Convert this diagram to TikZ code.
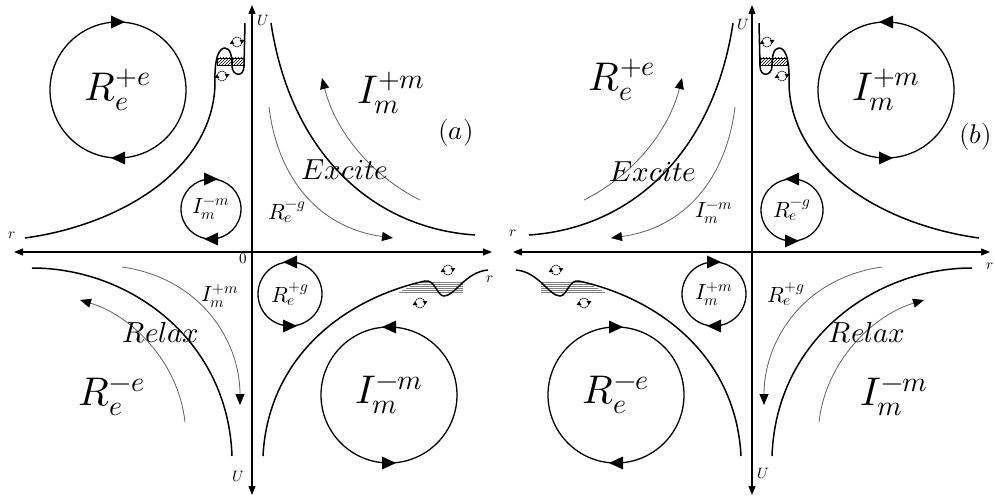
\documentclass[tikz,border=0pt]{standalone}
\usepackage{fontspec}
\usepackage{unicode-math}
\usetikzlibrary{arrows.meta,patterns}
\tikzset{
  curve/.style={line width=1.5pt, black},
  garrow/.style={line width=0.8pt, gray!75!black, -{Triangle[length=11pt,width=9pt,color=black]}},
  axisline/.style={line width=1.2pt, {Triangle[length=9pt,width=7pt]}-{Triangle[length=9pt,width=7pt]}},
  circ/.style={line width=1.3pt},
  biglab/.style={font=\fontsize{40}{44}\selectfont, inner sep=1pt},
  smalllab/.style={font=\fontsize{22}{26}\selectfont, inner sep=1pt},
  wordlab/.style={font=\fontsize{29}{32}\selectfont, inner sep=1pt},
  panlab/.style={font=\fontsize{27}{30}\selectfont, inner sep=1pt},
  axlab/.style={font=\fontsize{15}{17}\selectfont, inner sep=1pt},
  tri/.pic={\fill (7,0) -- (-7,-6.5) -- (-7,6.5) -- cycle;},
  ico/.pic={\draw[line width=0.5pt] (0,0) circle (5);
            \fill (-5,-1.5) -- (-7.5,2) -- (-2.5,2) -- cycle;
            \fill (5,1.5) -- (2.5,-2) -- (7.5,-2) -- cycle;}
}
% #1 centre name, #2 radius, #3 top arrow rotation (0 = right), #4 bottom arrow rotation
\newcommand\cyclecirc[4]{%
  \draw[circ] (#1) circle (#2);
  \pic[rotate=#3] at ([yshift=#2pt]#1) {tri};
  \pic[rotate=#4] at ([yshift=-#2pt]#1) {tri};
}
\newcommand\panelcurves{%
  % quadrant I main curve and arrows
  \draw[curve] (271,23) .. controls (290,150) and (370,228) .. (475,235);
  \draw[garrow] (420,200) .. controls (370,175) and (335,130) .. (322,78);
  \draw[garrow] (269,107) .. controls (278,180) and (320,228) .. (393,238);
  % quadrant III main curve and arrows
  \draw[curve] (32,268) .. controls (130,268) and (228,340) .. (232,456);
  \draw[garrow] (185,422) .. controls (178,360) and (130,315) .. (80,300);
  \draw[garrow] (122,267) .. controls (200,278) and (240,340) .. (240,405);
  % quadrant II well
  \draw[line width=0.5pt, pattern=north east lines] (217,58) rectangle (232,65);
  \draw[line width=0.5pt, pattern=north east lines] (232,58) rectangle (244,65);
  \draw[curve] (25,238) .. controls (120,225) and (212,170) .. (215,85)
     .. controls (214,55) and (220,48) .. (225,48)
     .. controls (231,48) and (232,58) .. (232,66)
     .. controls (232,76) and (244,78) .. (244,66) -- (245,23);
  \pic at (237,42) {ico};
  \pic at (222,76) {ico};
  % quadrant IV well
  \foreach \yy/\xs in {282.5/420,284.5/414,286.5/410,288.5/406,290.5/402,292.5/399}
    \draw[gray, line width=0.5pt] (\xs,\yy) -- (463,\yy);
  \draw[curve] (263,456) .. controls (268,360) and (340,300) .. (425,281)
     .. controls (435,279) and (437,296) .. (444,296)
     .. controls (455,296) and (465,272) .. (488,270);
  \pic at (448,270) {ico};
  \pic at (420,303) {ico};
}
\begin{document}
\begin{tikzpicture}[x=1pt,y=-1pt]
\useasboundingbox (0,0) rectangle (995,497);
% ---------------- panel (a) ----------------
\coordinate (aT) at (252,5);
\coordinate (aB) at (252,495);
\coordinate (aL) at (14,252);
\coordinate (aR) at (492,252);
\draw[axisline] (aB) -- (aT);
\draw[axisline] (aL) -- (aR);
\node[axlab] (aU1) at (263,21) {$U$};
\node[axlab] (ar1) at (12,235) {$r$};
\node[axlab] (a0) at (243,259) {$0$};
\node[axlab] (ar2) at (490,279) {$r$};
\node[axlab] (aU2) at (238,477) {$U$};
\panelcurves
\coordinate (caRee) at (118,90);
\coordinate (caImm) at (211,209);
\coordinate (caReg) at (290,294);
\coordinate (caImmB) at (389,395);
\cyclecirc{caRee}{68}{0}{180}
\cyclecirc{caImm}{30}{0}{180}
\cyclecirc{caReg}{32}{180}{0}
\cyclecirc{caImmB}{68}{180}{0}
\node[biglab] (aRee) at (caRee) {$R_e^{+e}$};
\node[smalllab] (aImm) at (caImm) {$I_m^{-m}$};
\node[smalllab] (aReg) at (caReg) {$R_e^{+g}$};
\node[biglab] (aImmB) at (caImmB) {$I_m^{-m}$};
\node[biglab] (aIpm) at (391,93) {$I_m^{+m}$};
\node[panlab] (alab) at (456,133) {$(a)$};
\node[wordlab] (aexc) at (345,170) {$Excite$};
\node[smalllab] (aRmg) at (287,212) {$R_e^{-g}$};
\node[smalllab] (aIpms) at (220,296) {$I_m^{+m}$};
\node[wordlab] (arel) at (161,333) {$Relax$};
\node[biglab] (aRme) at (112,397) {$R_e^{-e}$};
% ---------------- panel (b) ----------------
\coordinate (bT) at (752,5);
\coordinate (bB) at (752,495);
\coordinate (bL) at (513,252);
\coordinate (bR) at (990,252);
\draw[axisline] (bB) -- (bT);
\draw[axisline] (bL) -- (bR);
\node[axlab] (bU1) at (743,25) {$U$};
\node[axlab] (br1) at (513,233) {$r$};
\node[axlab] (br2) at (990,266) {$r$};
\node[axlab] (bU2) at (763,474) {$U$};
\begin{scope}[shift={(1004,0)}, xscale=-1]
\panelcurves
\end{scope}
\coordinate (cbIpm) at (886,90);
\coordinate (cbRmg) at (792,210);
\coordinate (cbIpms) at (714,294);
\coordinate (cbRme) at (616,395);
\cyclecirc{cbIpm}{68}{180}{0}
\cyclecirc{cbRmg}{31}{180}{0}
\cyclecirc{cbIpms}{32}{0}{180}
\cyclecirc{cbRme}{68}{0}{180}
\node[biglab] (bIpm) at (cbIpm) {$I_m^{+m}$};
\node[smalllab] (bRmg) at (cbRmg) {$R_e^{-g}$};
\node[smalllab] (bIpms) at (cbIpms) {$I_m^{+m}$};
\node[biglab] (bRme) at (cbRme) {$R_e^{-e}$};
\node[biglab] (bRpe) at (622,80) {$R_e^{+e}$};
\node[wordlab] (bexc) at (653,172) {$Excite$};
\node[smalllab] (bImm) at (714,213) {$I_m^{-m}$};
\node[panlab, anchor=west] (blab) at (958,137) {$(b)$};
\node[smalllab] (bRpg) at (786,294) {$R_e^{+g}$};
\node[wordlab] (brel) at (867,333) {$Relax$};
\node[biglab] (bImmB) at (894,397) {$I_m^{-m}$};
\end{tikzpicture}
\end{document}
